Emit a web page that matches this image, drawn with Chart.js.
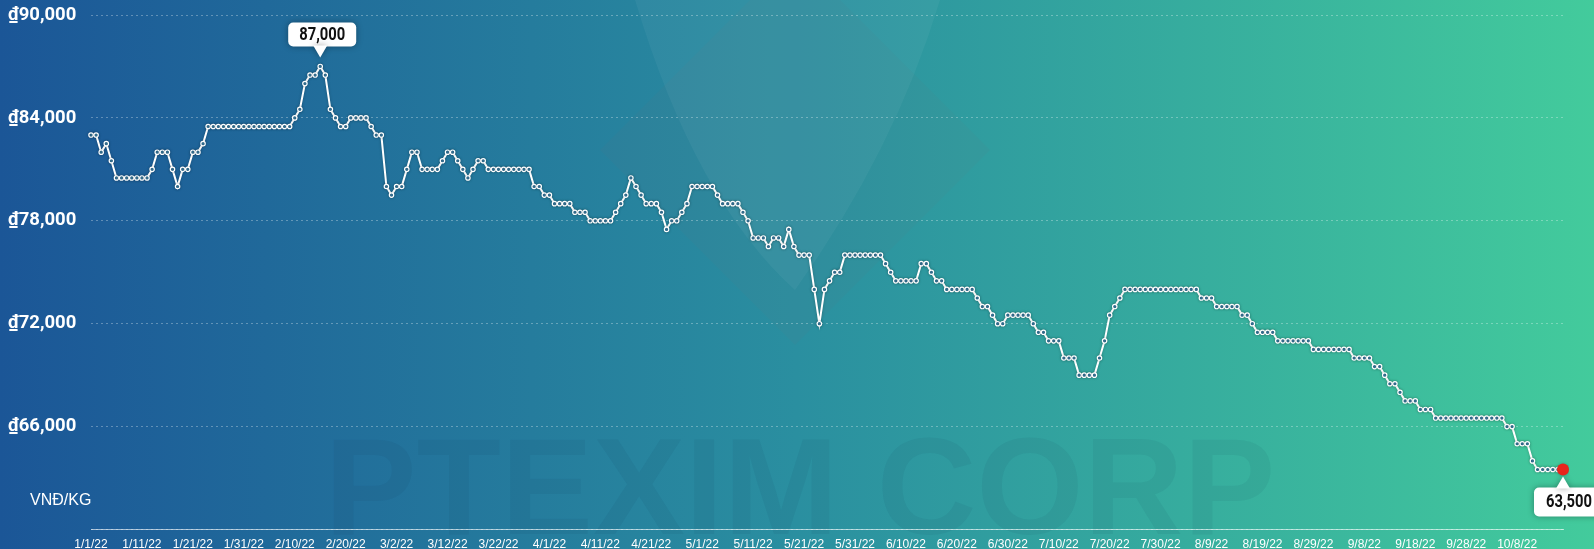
<!DOCTYPE html>
<html>
<head>
<meta charset="utf-8">
<script src="https://cdn.jsdelivr.net/npm/chart.js@4/dist/chart.umd.min.js"></script>
<style>
	html, body { margin: 0; padding: 0; background: #1f6fa0; }
	#price-chart { display: block; }
</style>
</head>
<body>
<canvas id="price-chart" width="1594" height="549"></canvas>
<script>
// daily price, VND per kg, from 1/1/22
const PRICES = [
	83000, 83000, 82000, 82500, 81500, 80500, 80500, 80500, 80500, 80500,
	80500, 80500, 81000, 82000, 82000, 82000, 81000, 80000, 81000, 81000,
	82000, 82000, 82500, 83500, 83500, 83500, 83500, 83500, 83500, 83500,
	83500, 83500, 83500, 83500, 83500, 83500, 83500, 83500, 83500, 83500,
	84000, 84500, 86000, 86500, 86500, 87000, 86500, 84500, 84000, 83500,
	83500, 84000, 84000, 84000, 84000, 83500, 83000, 83000, 80000, 79500,
	80000, 80000, 81000, 82000, 82000, 81000, 81000, 81000, 81000, 81500,
	82000, 82000, 81500, 81000, 80500, 81000, 81500, 81500, 81000, 81000,
	81000, 81000, 81000, 81000, 81000, 81000, 81000, 80000, 80000, 79500,
	79500, 79000, 79000, 79000, 79000, 78500, 78500, 78500, 78000, 78000,
	78000, 78000, 78000, 78500, 79000, 79500, 80500, 80000, 79500, 79000,
	79000, 79000, 78500, 77500, 78000, 78000, 78500, 79000, 80000, 80000,
	80000, 80000, 80000, 79500, 79000, 79000, 79000, 79000, 78500, 78000,
	77000, 77000, 77000, 76500, 77000, 77000, 76500, 77500, 76500, 76000,
	76000, 76000, 74000, 72000, 74000, 74500, 75000, 75000, 76000, 76000,
	76000, 76000, 76000, 76000, 76000, 76000, 75500, 75000, 74500, 74500,
	74500, 74500, 74500, 75500, 75500, 75000, 74500, 74500, 74000, 74000,
	74000, 74000, 74000, 74000, 73500, 73000, 73000, 72500, 72000, 72000,
	72500, 72500, 72500, 72500, 72500, 72000, 71500, 71500, 71000, 71000,
	71000, 70000, 70000, 70000, 69000, 69000, 69000, 69000, 70000, 71000,
	72500, 73000, 73500, 74000, 74000, 74000, 74000, 74000, 74000, 74000,
	74000, 74000, 74000, 74000, 74000, 74000, 74000, 74000, 73500, 73500,
	73500, 73000, 73000, 73000, 73000, 73000, 72500, 72500, 72000, 71500,
	71500, 71500, 71500, 71000, 71000, 71000, 71000, 71000, 71000, 71000,
	70500, 70500, 70500, 70500, 70500, 70500, 70500, 70500, 70000, 70000,
	70000, 70000, 69500, 69500, 69000, 68500, 68500, 68000, 67500, 67500,
	67500, 67000, 67000, 67000, 66500, 66500, 66500, 66500, 66500, 66500,
	66500, 66500, 66500, 66500, 66500, 66500, 66500, 66500, 66000, 66000,
	65000, 65000, 65000, 64000, 63500, 63500, 63500, 63500, 63500, 63500
];

const TICK_LABELS = [
	'1/1/22', '1/11/22', '1/21/22', '1/31/22', '2/10/22', '2/20/22', '3/2/22', '3/12/22',
	'3/22/22', '4/1/22', '4/11/22', '4/21/22', '5/1/22', '5/11/22', '5/21/22', '5/31/22',
	'6/10/22', '6/20/22', '6/30/22', '7/10/22', '7/20/22', '7/30/22', '8/9/22', '8/19/22',
	'8/29/22', '9/8/22', '9/18/22', '9/28/22', '10/8/22'
];

const Y_TICKS = [60000, 66000, 72000, 78000, 84000, 90000];
const UNIT_LABEL = 'VNĐ/KG';
const WATERMARK = 'PTEXIM CORP';

// one category per day
const DAYS = [];
for (let i = 0; i < PRICES.length; i++) {
	let d = new Date(2022, 0, 1 + i);
	DAYS.push((d.getMonth() + 1) + '/' + d.getDate() + '/22');
}

function money(v) {
	return v.toLocaleString('en-US');
}

const backdrop = {
	id: 'backdrop',
	beforeDraw: function (chart) {
		const ctx = chart.ctx;
		const w = chart.width, h = chart.height;
		ctx.save();
		let g = ctx.createLinearGradient(0, 0, w, 0);
		g.addColorStop(0, '#1b5697');
		g.addColorStop(0.5, '#2a8fa0');
		g.addColorStop(1, '#43cb9c');
		ctx.fillStyle = g;
		ctx.fillRect(0, 0, w, h);

		// faint logo behind the plot
		ctx.beginPath();
		ctx.moveTo(600, 150);
		ctx.lineTo(795, -45);
		ctx.lineTo(990, 150);
		ctx.lineTo(795, 345);
		ctx.closePath();
		ctx.fillStyle = 'rgba(110,110,130,0.07)';
		ctx.fill();
		ctx.beginPath();
		ctx.moveTo(635, 0);
		ctx.quadraticCurveTo(695, 200, 795, 290);
		ctx.quadraticCurveTo(895, 150, 940, 0);
		ctx.closePath();
		ctx.fillStyle = 'rgba(255,255,255,0.045)';
		ctx.fill();

		ctx.font = 'bold 138px "Liberation Sans"';
		ctx.textAlign = 'center';
		ctx.textBaseline = 'alphabetic';
		ctx.fillStyle = 'rgba(20,40,70,0.06)';
		ctx.fillText(WATERMARK, 800, 534);

		ctx.font = '16px "Liberation Sans"';
		ctx.textAlign = 'left';
		ctx.textBaseline = 'middle';
		ctx.fillStyle = '#ffffff';
		ctx.fillText(UNIT_LABEL, 30, 501);
		ctx.restore();
	},
	beforeDatasetsDraw: function (chart) {
		chart.ctx.save();
		chart.ctx.shadowColor = 'rgba(0,0,0,0.25)';
		chart.ctx.shadowBlur = 3;
	},
	afterDatasetsDraw: function (chart) {
		chart.ctx.restore();
	}
};

function callout(ctx, px, tipY, boxX, boxTop, boxW, boxH, text, up) {
	const left = boxX - boxW / 2;
	ctx.save();
	ctx.shadowColor = 'rgba(0,0,0,0.35)';
	ctx.shadowBlur = 6;
	ctx.fillStyle = '#ffffff';
	ctx.beginPath();
	ctx.roundRect(left, boxTop, boxW, boxH, 5);
	ctx.fill();
	ctx.beginPath();
	let edge = up ? boxTop + 1 : boxTop + boxH - 1;
	ctx.moveTo(px - 7, edge);
	ctx.lineTo(px, tipY);
	ctx.lineTo(px + 7, edge);
	ctx.fill();
	ctx.shadowBlur = 0;
	ctx.fillStyle = '#111111';
	ctx.font = 'bold 18px Roboto, "Liberation Sans"';
	ctx.textAlign = 'center';
	ctx.textBaseline = 'middle';
	ctx.translate(boxX, boxTop + boxH / 2 + 1);
	ctx.scale(0.82, 1);
	ctx.fillText(text, 0, 0);
	ctx.restore();
}

const callouts = {
	id: 'callouts',
	afterDraw: function (chart) {
		const meta = chart.getDatasetMeta(0);
		const ctx = chart.ctx;
		let hi = 0;
		PRICES.forEach(function (v, i) {
			if (v > PRICES[hi]) hi = i;
		});
		const last = PRICES.length - 1;

		let p = meta.data[hi];
		callout(ctx, p.x, p.y - 9, p.x + 2, p.y - 44, 68, 24, money(PRICES[hi]), false);

		let q = meta.data[last];
		callout(ctx, q.x, q.y + 7, q.x + 6, q.y + 18, 70, 29, money(PRICES[last]), true);
	}
};

const canvas = document.getElementById('price-chart');
const lastIndex = PRICES.length - 1;

var config = {
	type: 'line',
	data: {
		labels: DAYS,
		datasets: [{
			label: 'Price',
			data: PRICES,
			borderColor: '#ffffff',
			borderWidth: 2,
			tension: 0,
			pointRadius: function (c) { return c.dataIndex === lastIndex ? 6 : 2.2; },
			pointBorderWidth: function (c) { return c.dataIndex === lastIndex ? 0 : 1.2; },
			pointBorderColor: function (c) { return c.dataIndex === lastIndex ? '#e8261c' : '#ffffff'; },
			pointBackgroundColor: function (c) { return c.dataIndex === lastIndex ? '#e8261c' : 'rgba(40,110,150,0.9)'; },
		}]
	},
	options: {
		responsive: false,
		animation: false,
		devicePixelRatio: 1,
		// plot box: left 91, right 1563, top 15, bottom 529.5
		layout: { padding: { top: 15, right: 31, bottom: 0, left: 8 } },
		plugins: {
			legend: { display: false },
			tooltip: { enabled: false },
		},
		scales: {
			x: {
				type: 'category',
				grid: { display: false },
				border: { display: true, color: 'rgba(255,255,255,0.6)', width: 1 },
				ticks: {
					autoSkip: false,
					maxRotation: 0,
					padding: 0,
					color: '#ffffff',
					font: { family: '"Liberation Sans", Arial', size: 12 },
					callback: function (v, i) {
						return i % 10 === 0 ? TICK_LABELS[i / 10] : '';
					}
				},
				afterFit: function (scale) { scale.height = 19.5; }
			},
			y: {
				min: Y_TICKS[0],
				max: Y_TICKS[Y_TICKS.length - 1],
				afterBuildTicks: function (scale) {
					scale.ticks = Y_TICKS.map(function (v) { return { value: v }; });
				},
				grid: { color: 'rgba(255,255,255,0.3)', lineWidth: 1, drawTicks: false },
				border: { display: false, dash: [2, 3] },
				ticks: {
					padding: 0,
					crossAlign: 'far',
					color: '#ffffff',
					font: { family: 'Roboto, "Liberation Sans"', size: 18.5, weight: 'bold' },
					callback: function (v) {
						return v === Y_TICKS[0] ? '' : '₫' + money(v);
					}
				},
				afterFit: function (scale) { scale.width = 83; }
			}
		}
	},
	plugins: [backdrop, callouts]
};

new Chart(canvas, config);
</script>
</body>
</html>
